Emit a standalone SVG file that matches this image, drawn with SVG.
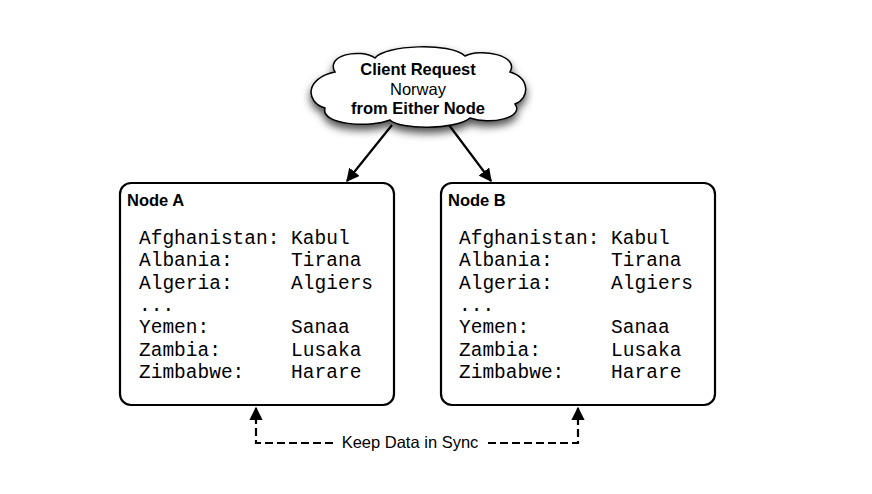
<svg xmlns="http://www.w3.org/2000/svg" width="872" height="494" viewBox="0 0 872 494">
<defs>
<style>
.box{fill:#fff;stroke:#000;stroke-width:2.2}
.title{font-family:"Liberation Sans",Arial,sans-serif;font-weight:bold;font-size:16.5px;fill:#000}
.mono{font-family:"Liberation Mono","Courier New",monospace;font-size:19.5px;fill:#000}
.ct{font-family:"Liberation Sans",Arial,sans-serif;font-size:16.5px;fill:#000;text-anchor:middle}
.b{font-weight:bold}
.conn{fill:none;stroke:#000;stroke-width:2.2}
.dash{stroke-dasharray:8,4}
.lbl{font-family:"Liberation Sans",Arial,sans-serif;font-size:16.5px;fill:#000;text-anchor:middle}
</style>
<marker id="ah" viewBox="0 0 10 10" refX="9" refY="5" markerWidth="6" markerHeight="6" orient="auto" markerUnits="strokeWidth">
<path d="M0,0 L10,5 L0,10 Z" fill="#000"/>
</marker>
<filter id="sh" x="-20%" y="-20%" width="140%" height="160%">
<feDropShadow dx="0" dy="5" stdDeviation="4" flood-color="#000" flood-opacity="0.7"/>
</filter>
</defs>
<rect width="872" height="494" fill="#fff"/>
<g id="connectors">
<line class="conn" x1="392" y1="125" x2="347" y2="181" marker-end="url(#ah)"/>
<line class="conn" x1="449" y1="125" x2="491" y2="181" marker-end="url(#ah)"/>
<path class="conn dash" d="M333,443 H256 V408" marker-end="url(#ah)"/>
<path class="conn dash" d="M488,443 H578 V408" marker-end="url(#ah)"/>
<text class="lbl" x="410" y="448">Keep Data in Sync</text>
</g>
<g id="cloud">
<path filter="url(#sh)" fill="#fff" stroke="#000" stroke-width="1.5" d="M335,72 C325,55 360,48 375,58 C385,45 450,42 465,56 C480,48 520,55 510,72 C530,78 530,98 515,104 C525,118 490,125 470,118 C455,130 400,130 390,120 C370,128 320,125 325,108 C305,102 305,78 335,72 Z"/>
<text class="ct b" x="418" y="75">Client Request</text>
<text class="ct" x="418" y="95">Norway</text>
<text class="ct b" x="418" y="114">from Either Node</text>
</g>
<g id="nodeA">
<rect class="box" x="120" y="183" width="274" height="222" rx="11"/>
<text class="title" x="127" y="206">Node A</text>
<text class="mono" x="139" y="244" xml:space="preserve">Afghanistan: Kabul</text>
<text class="mono" x="139" y="266" xml:space="preserve">Albania:     Tirana</text>
<text class="mono" x="139" y="289" xml:space="preserve">Algeria:     Algiers</text>
<text class="mono" x="139" y="311" xml:space="preserve">...</text>
<text class="mono" x="139" y="333" xml:space="preserve">Yemen:       Sanaa</text>
<text class="mono" x="139" y="356" xml:space="preserve">Zambia:      Lusaka</text>
<text class="mono" x="139" y="378" xml:space="preserve">Zimbabwe:    Harare</text>
</g>
<g id="nodeB">
<rect class="box" x="441" y="183" width="274" height="222" rx="11"/>
<text class="title" x="448" y="206">Node B</text>
<text class="mono" x="459" y="244" xml:space="preserve">Afghanistan: Kabul</text>
<text class="mono" x="459" y="266" xml:space="preserve">Albania:     Tirana</text>
<text class="mono" x="459" y="289" xml:space="preserve">Algeria:     Algiers</text>
<text class="mono" x="459" y="311" xml:space="preserve">...</text>
<text class="mono" x="459" y="333" xml:space="preserve">Yemen:       Sanaa</text>
<text class="mono" x="459" y="356" xml:space="preserve">Zambia:      Lusaka</text>
<text class="mono" x="459" y="378" xml:space="preserve">Zimbabwe:    Harare</text>
</g>
</svg>
